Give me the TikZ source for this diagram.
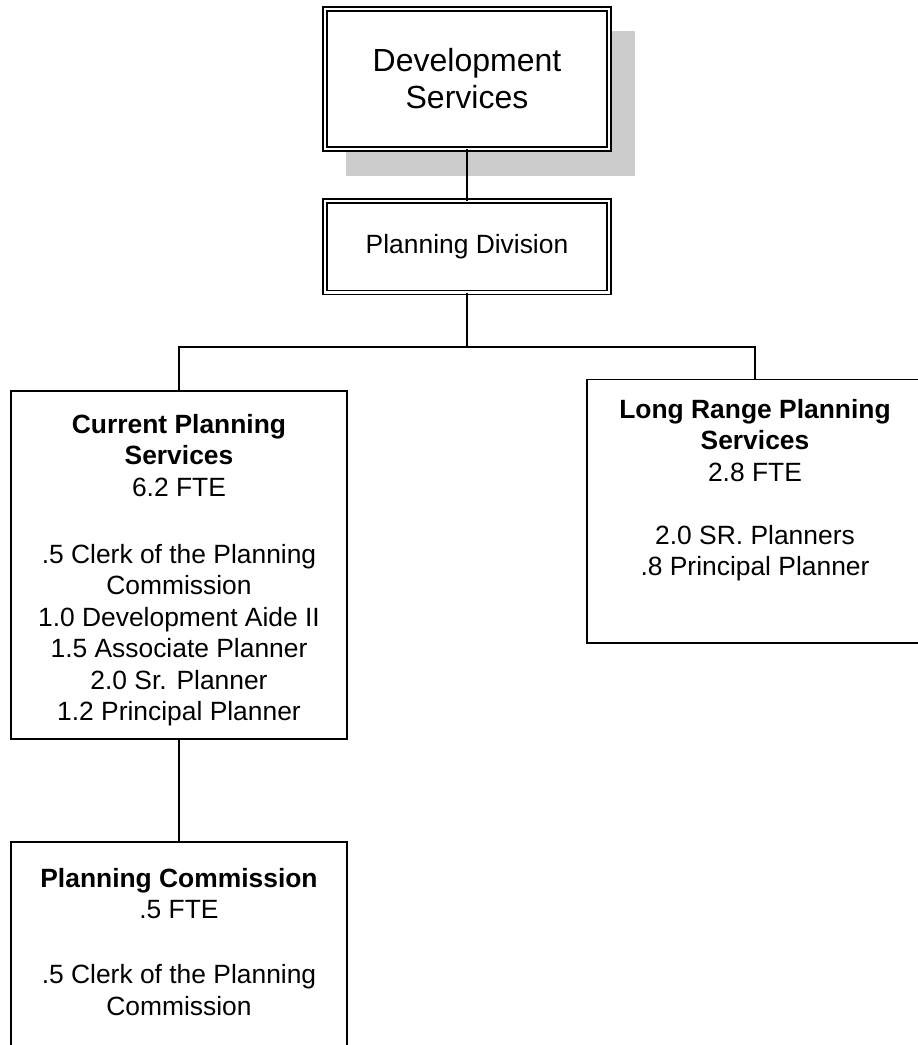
\documentclass[tikz,border=0pt]{standalone}
\usepackage{fontspec}
\setmainfont{Liberation Sans}
\usetikzlibrary{positioning}
\definecolor{shadowgray}{HTML}{CCCCCC}
\definecolor{inkblack}{HTML}{000000}
\newcommand{\unitfont}{\fontsize{26.4}{31.5}\selectfont}
\newcommand{\headfont}{\fontsize{32}{37}\selectfont}

\begin{document}
\begin{tikzpicture}[
  x=1pt, y=-1pt,
  dblbox/.style={draw=inkblack, double, line width=1.2pt, double distance=2.8pt,
    fill=white, minimum width=284pt, minimum height=#1, inner sep=0pt,
    outer sep=0pt, align=center},
  unitbox/.style={draw=inkblack, line width=1.6pt, fill=white,
    minimum width=336pt, minimum height=#1, inner sep=0pt, outer sep=0pt},
  unittext/.style={align=center, inner sep=0pt, anchor=north,
    font=\unitfont, text=inkblack},
  link/.style={draw=inkblack, line width=1.3pt},
]

% Page
\useasboundingbox (0,0) rectangle (918,1045);
\clip (0,0) rectangle (918,1045);

% === Department and division ===

% Shadow behind the department box
\fill[shadowgray] (346,31) rectangle (635,176);

% Development Services (top)
\node[dblbox=140pt, font=\headfont] (devsvc) at (467,79)
  {Development\\Services};

% Planning Division
\node[dblbox=91.5pt, font=\unitfont] (plandiv) at (467,246.75)
  {Planning Division};

% === Unit boxes ===

% Current Planning Services (left)
\node[unitbox=348pt] (cursvc) at (179,565) {};
\node[unittext, below=23pt of cursvc.north] (cursvctext)
  {\textbf{Current Planning}\\
   \textbf{Services}\\
   6.2 FTE\\[35.5pt]
   .5 Clerk of the Planning\\
   Commission\\
   1.0 Development Aide II\\
   1.5 Associate Planner\\
   2.0 Sr. Planner\\
   1.2 Principal Planner};

% Long Range Planning Services (right)
\node[unitbox=263.5pt] (lrsvc) at (755,511.25) {};
\node[unittext, below=19.5pt of lrsvc.north] (lrsvctext)
  {\textbf{Long Range Planning}\\
   \textbf{Services}\\
   2.8 FTE\\[31.5pt]
   2.0 SR. Planners\\
   .8 Principal Planner};

% Planning Commission (bottom)
\node[unitbox=260pt] (plancom) at (179,972) {};
\node[unittext, below=26pt of plancom.north] (plancomtext)
  {\textbf{Planning Commission}\\
   .5 FTE\\[33.5pt]
   .5 Clerk of the Planning\\
   Commission};

% === Connectors ===
\coordinate (split) at (467,347);
\draw[link] (devsvc.south) -- (plandiv.north);
\draw[link] (plandiv.south) -- (split);
\draw[link] (split) -| (cursvc.north);
\draw[link] (split) -| (lrsvc.north);
\draw[link] (cursvc.south) -- (plancom.north);

\end{tikzpicture}
\end{document}
